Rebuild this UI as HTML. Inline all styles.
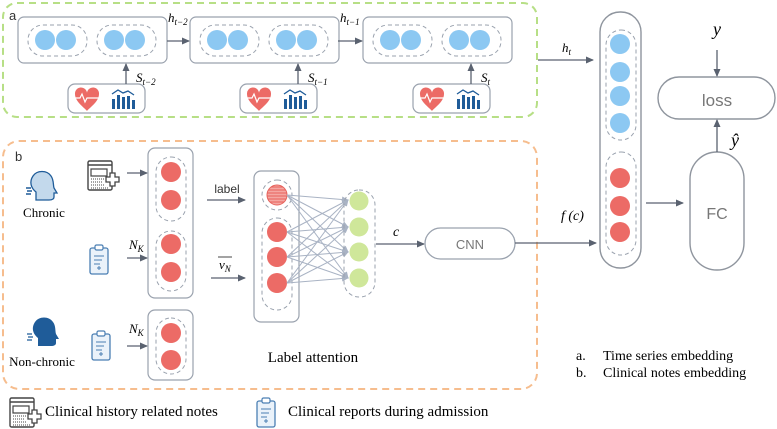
<!DOCTYPE html>
<html><head><meta charset="utf-8"><style>
html,body{margin:0;padding:0;background:#fff}
svg{display:block}
.s{font-family:"Liberation Sans",sans-serif}
.r{font-family:"Liberation Serif",serif}
.m{font-family:"Liberation Serif",serif;font-style:italic}
</style></head><body>
<svg width="777" height="429" viewBox="0 0 777 429" xmlns="http://www.w3.org/2000/svg">
<defs>
<marker id="ar" markerWidth="8" markerHeight="8" refX="7" refY="4" orient="auto" markerUnits="userSpaceOnUse"><path d="M0,0.5 L8,4 L0,7.5 z" fill="#5a6270"/></marker>
<marker id="ag" markerWidth="7" markerHeight="7" refX="6" refY="3.5" orient="auto" markerUnits="userSpaceOnUse"><path d="M0,0.5 L7,3.5 L0,6.5 z" fill="#a9b3c4"/></marker>
<pattern id="hp" width="3" height="3" patternUnits="userSpaceOnUse"><rect width="3" height="3" fill="#f4a7a2"/><line x1="0" y1="1" x2="3" y2="1" stroke="#e7625c" stroke-width="1"/></pattern>
<g id="ecg"><path d="M0,6 a6,6 0 0 1 12,-1 a6,6 0 0 1 12,1 c0,8 -10,14 -12,17 c-2,-3 -12,-9 -12,-17z" fill="#ec6b66"/><path d="M-2,10 h7 l2,-4 l3,8 l2,-4 h12" stroke="#fff" stroke-width="1.2" fill="none"/></g>
<g id="bars" fill="#1f5c99"><rect x="0" y="10" width="3" height="10"/><rect x="5" y="6" width="3" height="14"/><rect x="10" y="8" width="3" height="12"/><rect x="15" y="7" width="3" height="13"/><rect x="20" y="11" width="3" height="9"/><path d="M0,5 L6,1 L11,4 L16,2 L22,6" stroke="#1f5c99" stroke-width="1.3" fill="none"/></g>
<g id="clip"><rect x="0" y="3" width="18" height="26" rx="2" fill="#eaf2fa" stroke="#4b7fb3" stroke-width="1.3"/><rect x="5" y="0" width="8" height="5" rx="1.5" fill="#fff" stroke="#4b7fb3" stroke-width="1.2"/><path d="M4,11 h10 M4,15 h8 M4,19 h6 M7,23 h4 M9,21 v4" stroke="#4b7fb3" stroke-width="1"/></g>
<g id="note"><rect x="0" y="0" width="24" height="29" rx="1.5" fill="#fff" stroke="#444" stroke-width="1.4"/><path d="M0,4 h24" stroke="#444" stroke-width="1.4"/><rect x="3" y="8" width="16" height="7" fill="none" stroke="#444" stroke-width="1.2"/><path d="M3,18 h14 M3,21 h12 M3,24 h14 M3,27 h18" stroke="#444" stroke-width="1" stroke-dasharray="1 1"/><path d="M18,16 h4 v-4 h5 v4 h4 v5 h-4 v4 h-5 v-4 h-4z" fill="#fff" stroke="#444" stroke-width="1.3"/></g>
</defs>

<rect x="3" y="3" width="534" height="114" rx="14" fill="none" stroke="#b7df86" stroke-width="2" stroke-dasharray="7 5"/>
<text x="9" y="20" class="s" font-size="13" fill="#333">a</text>

<g id="tb">
<rect x="18" y="17" width="149" height="46" rx="6" fill="#fff" stroke="#9aa2ae" stroke-width="1.2"/>
<rect x="28" y="25" width="59" height="31" rx="15" fill="none" stroke="#9aa2ae" stroke-dasharray="4 3"/>
<rect x="97" y="25" width="59" height="31" rx="15" fill="none" stroke="#9aa2ae" stroke-dasharray="4 3"/>
<circle cx="45" cy="40" r="10" fill="#8cc8f2"/><circle cx="66" cy="40" r="10" fill="#8cc8f2"/>
<circle cx="114" cy="40" r="10" fill="#8cc8f2"/><circle cx="135" cy="40" r="10" fill="#8cc8f2"/>
<rect x="68" y="84" width="77" height="29" rx="7" fill="#fff" stroke="#9aa2ae" stroke-width="1.2"/>
<use href="#ecg" x="75" y="88"/><use href="#bars" x="112" y="89"/>
<line x1="126" y1="84" x2="126" y2="64" stroke="#5a6270" stroke-width="1.3" marker-end="url(#ar)"/>
</g>
<use href="#tb" x="172"/>
<use href="#tb" x="345"/>
<text x="136" y="82" class="m" font-size="13">S<tspan font-size="9" dy="3">t−2</tspan></text>
<text x="308" y="82" class="m" font-size="13">S<tspan font-size="9" dy="3">t−1</tspan></text>
<text x="481" y="82" class="m" font-size="13">S<tspan font-size="9" dy="3">t</tspan></text>
<line x1="167" y1="41" x2="189" y2="41" stroke="#5a6270" stroke-width="1.3" marker-end="url(#ar)"/>
<line x1="338" y1="41" x2="362" y2="41" stroke="#5a6270" stroke-width="1.3" marker-end="url(#ar)"/>
<text x="168" y="22" class="m" font-size="13">h<tspan font-size="9" dy="3">t−2</tspan></text>
<text x="340" y="22" class="m" font-size="13">h<tspan font-size="9" dy="3">t−1</tspan></text>

<rect x="3" y="141" width="534" height="248" rx="16" fill="none" stroke="#f6bd8e" stroke-width="2" stroke-dasharray="7 5"/>
<text x="15" y="161" class="s" font-size="13" fill="#333">b</text>

<path d="M36,200 v-8 c-5,-4 -7,-10 -3,-16 c4,-6 14,-6 18,0 c3,4 2,9 3,12 l3,5 h-3 v4 c0,2 -2,3 -5,3 h-3 v0z" fill="#c3d9ec" stroke="#1f5c99" stroke-width="1.3"/>
<path d="M26,188 h5 M27,191 h5 M26,194 h5" stroke="#1f5c99" stroke-width="1.5"/>
<text x="44" y="217" class="r" font-size="13" text-anchor="middle">Chronic</text>
<path d="M38,346 v-8 c-5,-4 -7,-10 -3,-16 c4,-6 14,-6 18,0 c3,4 2,9 3,12 l3,5 h-3 v4 c0,2 -2,3 -5,3 h-3 v0z" fill="#1f5c99"/>
<path d="M27,334 h5 M28,337 h5 M27,340 h5" stroke="#1f5c99" stroke-width="1.3"/>
<text x="42" y="366" class="r" font-size="13" text-anchor="middle">Non-chronic</text>

<use href="#note" x="88" y="161"/>
<use href="#clip" x="90" y="245"/>
<use href="#clip" x="92" y="331"/>

<rect x="148" y="148" width="45" height="150" rx="7" fill="#fff" stroke="#9aa2ae" stroke-width="1.2"/>
<rect x="156" y="157" width="30" height="64" rx="15" fill="none" stroke="#9aa2ae" stroke-dasharray="4 3"/>
<rect x="156" y="231" width="30" height="60" rx="15" fill="none" stroke="#9aa2ae" stroke-dasharray="4 3"/>
<circle cx="171" cy="172" r="10" fill="#ec6b66"/><circle cx="171" cy="200" r="10" fill="#ec6b66"/>
<circle cx="171" cy="244" r="10" fill="#ec6b66"/><circle cx="171" cy="272" r="10" fill="#ec6b66"/>
<rect x="148" y="310" width="45" height="70" rx="7" fill="#fff" stroke="#9aa2ae" stroke-width="1.2"/>
<rect x="156" y="318" width="30" height="56" rx="15" fill="none" stroke="#9aa2ae" stroke-dasharray="4 3"/>
<circle cx="171" cy="333" r="10" fill="#ec6b66"/><circle cx="171" cy="360" r="10" fill="#ec6b66"/>

<line x1="127" y1="173" x2="147" y2="173" stroke="#5a6270" stroke-width="1.3" marker-end="url(#ar)"/>
<line x1="127" y1="258" x2="147" y2="258" stroke="#5a6270" stroke-width="1.3" marker-end="url(#ar)"/>
<line x1="127" y1="346" x2="147" y2="346" stroke="#5a6270" stroke-width="1.3" marker-end="url(#ar)"/>
<text x="129" y="249" class="m" font-size="13">N<tspan font-size="9" dy="3">K</tspan></text>
<text x="129" y="333" class="m" font-size="13">N<tspan font-size="9" dy="3">K</tspan></text>

<text x="227" y="193" class="s" font-size="12" text-anchor="middle" fill="#333">label</text>
<line x1="207" y1="200" x2="245" y2="200" stroke="#5a6270" stroke-width="1.3" marker-end="url(#ar)"/>
<text x="219" y="269" class="m" font-size="13">v<tspan font-size="9" dy="3">N</tspan></text>
<line x1="218" y1="257" x2="232" y2="257" stroke="#333" stroke-width="0.9"/>
<line x1="211" y1="278" x2="245" y2="278" stroke="#5a6270" stroke-width="1.3" marker-end="url(#ar)"/>

<rect x="254" y="171" width="45" height="151" rx="7" fill="#fff" stroke="#9aa2ae" stroke-width="1.2"/>
<rect x="262" y="180" width="30" height="30" rx="15" fill="none" stroke="#9aa2ae" stroke-dasharray="4 3"/>
<rect x="262" y="218" width="30" height="92" rx="15" fill="none" stroke="#9aa2ae" stroke-dasharray="4 3"/>
<circle cx="277" cy="195" r="10" fill="url(#hp)" stroke="#e7625c"/>
<circle cx="277" cy="232" r="10" fill="#ec6b66"/><circle cx="277" cy="257" r="10" fill="#ec6b66"/><circle cx="277" cy="283" r="10" fill="#ec6b66"/>
<g stroke="#a9b3c4" stroke-width="1" marker-end="url(#ag)">
<line x1="287" y1="195" x2="348" y2="200"/><line x1="287" y1="195" x2="348" y2="227"/><line x1="287" y1="195" x2="348" y2="252"/><line x1="287" y1="195" x2="348" y2="278"/>
<line x1="287" y1="232" x2="348" y2="200"/><line x1="287" y1="232" x2="348" y2="227"/><line x1="287" y1="232" x2="348" y2="252"/><line x1="287" y1="232" x2="348" y2="278"/>
<line x1="287" y1="257" x2="348" y2="200"/><line x1="287" y1="257" x2="348" y2="227"/><line x1="287" y1="257" x2="348" y2="252"/><line x1="287" y1="257" x2="348" y2="278"/>
<line x1="287" y1="283" x2="348" y2="200"/><line x1="287" y1="283" x2="348" y2="227"/><line x1="287" y1="283" x2="348" y2="252"/><line x1="287" y1="283" x2="348" y2="278"/>
</g>
<rect x="344" y="190" width="31" height="107" rx="15" fill="none" stroke="#9aa2ae" stroke-dasharray="4 3"/>
<circle cx="359" cy="201" r="9.5" fill="#cfe79a"/><circle cx="359" cy="227" r="9.5" fill="#cfe79a"/><circle cx="359" cy="252" r="9.5" fill="#cfe79a"/><circle cx="359" cy="278" r="9.5" fill="#cfe79a"/>
<text x="313" y="362" class="r" font-size="15" text-anchor="middle">Label attention</text>

<text x="393" y="236" class="m" font-size="14">c</text>
<line x1="376" y1="244" x2="424" y2="244" stroke="#5a6270" stroke-width="1.3" marker-end="url(#ar)"/>
<rect x="425" y="228" width="90" height="31" rx="15.5" fill="#fff" stroke="#9aa2ae" stroke-width="1.3"/>
<text x="470" y="249" class="s" font-size="13" text-anchor="middle" fill="#777">CNN</text>
<line x1="515" y1="243" x2="596" y2="243" stroke="#5a6270" stroke-width="1.3" marker-end="url(#ar)"/>
<text x="561" y="220" class="m" font-size="14">f (c)</text>

<rect x="600" y="12" width="41" height="256" rx="20" fill="#fff" stroke="#8f959e" stroke-width="1.4"/>
<rect x="606" y="30" width="30" height="110" rx="15" fill="none" stroke="#9aa2ae" stroke-dasharray="4 3"/>
<rect x="606" y="152" width="30" height="103" rx="15" fill="none" stroke="#9aa2ae" stroke-dasharray="4 3"/>
<circle cx="620" cy="44" r="10" fill="#8cc8f2"/><circle cx="620" cy="72" r="10" fill="#8cc8f2"/><circle cx="620" cy="96" r="10" fill="#8cc8f2"/><circle cx="620" cy="123" r="10" fill="#8cc8f2"/>
<circle cx="620" cy="178" r="10" fill="#ec6b66"/><circle cx="620" cy="206" r="10" fill="#ec6b66"/><circle cx="620" cy="232" r="10" fill="#ec6b66"/>
<line x1="538" y1="60" x2="593" y2="60" stroke="#5a6270" stroke-width="1.3" marker-end="url(#ar)"/>
<text x="562" y="52" class="m" font-size="13">h<tspan font-size="9" dy="3">t</tspan></text>

<line x1="646" y1="203" x2="683" y2="203" stroke="#5a6270" stroke-width="1.3" marker-end="url(#ar)"/>
<rect x="690" y="152" width="54" height="118" rx="27" fill="#fff" stroke="#8f959e" stroke-width="1.4"/>
<text x="717" y="219" class="s" font-size="16" text-anchor="middle" fill="#777">FC</text>
<rect x="658" y="77" width="117" height="42" rx="21" fill="#fff" stroke="#8f959e" stroke-width="1.4"/>
<text x="717" y="106" class="s" font-size="17" text-anchor="middle" fill="#777">loss</text>
<text x="717" y="35" class="m" font-size="18" text-anchor="middle">y</text>
<line x1="717" y1="50" x2="717" y2="76" stroke="#5a6270" stroke-width="1.3" marker-end="url(#ar)"/>
<line x1="717" y1="152" x2="717" y2="120" stroke="#5a6270" stroke-width="1.3" marker-end="url(#ar)"/>
<text x="735" y="146" class="m" font-size="18" text-anchor="middle">ŷ</text>

<text x="576" y="360" class="r" font-size="14">a.</text>
<text x="603" y="360" class="r" font-size="14">Time series embedding</text>
<text x="576" y="377" class="r" font-size="14">b.</text>
<text x="603" y="377" class="r" font-size="14">Clinical notes embedding</text>

<use href="#note" x="10" y="398"/>
<text x="45" y="416" class="r" font-size="15">Clinical history related notes</text>
<use href="#clip" x="257" y="398"/>
<text x="288" y="416" class="r" font-size="15">Clinical reports during admission</text>
</svg>
</body></html>
